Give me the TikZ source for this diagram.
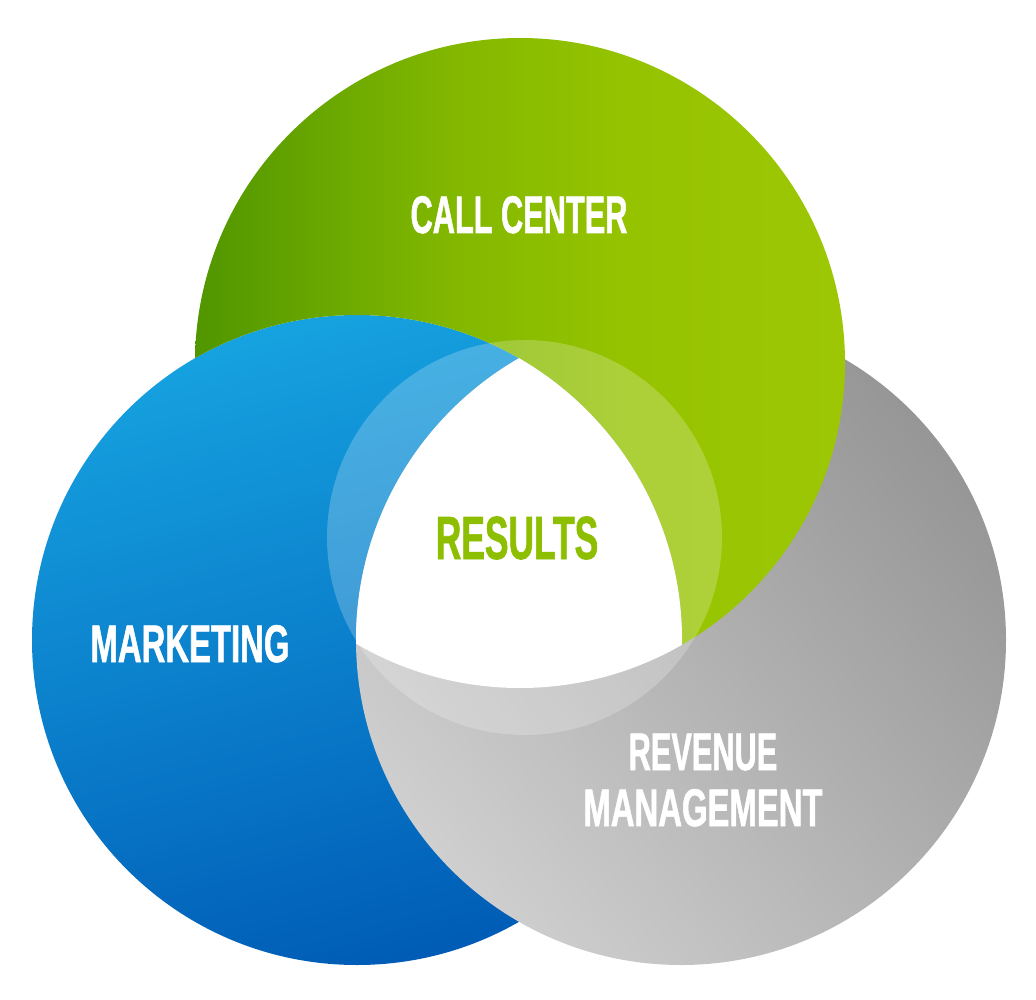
\documentclass[tikz,border=0pt]{standalone}
\usepackage{fontspec}
\newfontfamily\condfont[FakeStretch=0.58,FakeBold=1]{Liberation Sans}
\newfontfamily\condwfont[FakeStretch=0.62,FakeBold=1]{Liberation Sans}
\definecolor{grnA}{HTML}{509600}
\definecolor{grnM}{HTML}{83B800}
\definecolor{grnB}{HTML}{95C300}
\definecolor{grnC}{HTML}{9DC705}
\definecolor{bluA}{HTML}{16A2E0}
\definecolor{bluB}{HTML}{005CB6}
\definecolor{gryA}{HTML}{CFCFCF}
\definecolor{gryB}{HTML}{969696}
\definecolor{resgreen}{HTML}{8DBF00}
\pgfdeclarehorizontalshading{greenh}{100bp}{color(0bp)=(grnA); color(25bp)=(grnA); color(45bp)=(grnM); color(58bp)=(grnB); color(75bp)=(grnC); color(100bp)=(grnC)}
\begin{document}
\begin{tikzpicture}[x=1pt,y=-1pt,
  greenshade/.style={shading=greenh},
  blueshade/.style={top color=bluA, bottom color=bluB, shading angle=15},
  grayshade/.style={top color=gryB, bottom color=gryA, shading angle=-50},
  lbl/.style={font=\condfont\bfseries\fontsize{53}{56}\selectfont, text=white, inner sep=0pt, anchor=base},
  wide/.style={font=\condwfont\bfseries\fontsize{53}{56}\selectfont},
  big/.style={font=\condfont\bfseries\fontsize{61}{64}\selectfont}]
\useasboundingbox (0,0) rectangle (1036,1000);
\coordinate (G) at (520,363);
\coordinate (B) at (357,640);
\coordinate (R) at (681,640);
\coordinate (C) at (524.5,537.5);
% blue, then gray over blue
\shade[blueshade] (B) circle[radius=325];
\shade[grayshade] (R) circle[radius=325];
% green over gray, but under blue
\begin{scope}[even odd rule]
  \clip (-20,-20) rectangle (1056,1020) (B) circle[radius=325];
  \shade[greenshade] (G) circle[radius=325];
\end{scope}
% triple intersection white
\begin{scope}
  \clip (G) circle[radius=325];
  \clip (B) circle[radius=325];
  \fill[white] (R) circle[radius=325];
\end{scope}
% translucent centre circle
\fill[white, opacity=0.22] (C) circle[radius=197.5];
% labels
\node[lbl] (cc) at (519,233) {CALL CENTER};
\node[lbl, big, text=resgreen] (rs) at (517,559) {RESULTS};
\node[lbl, wide] (mk) at (190,662) {MARKETING};
\node[lbl] (rv) at (703,770) {REVENUE};
\node[lbl, wide] (mg) at (703,826) {MANAGEMENT};
\end{tikzpicture}
\end{document}
